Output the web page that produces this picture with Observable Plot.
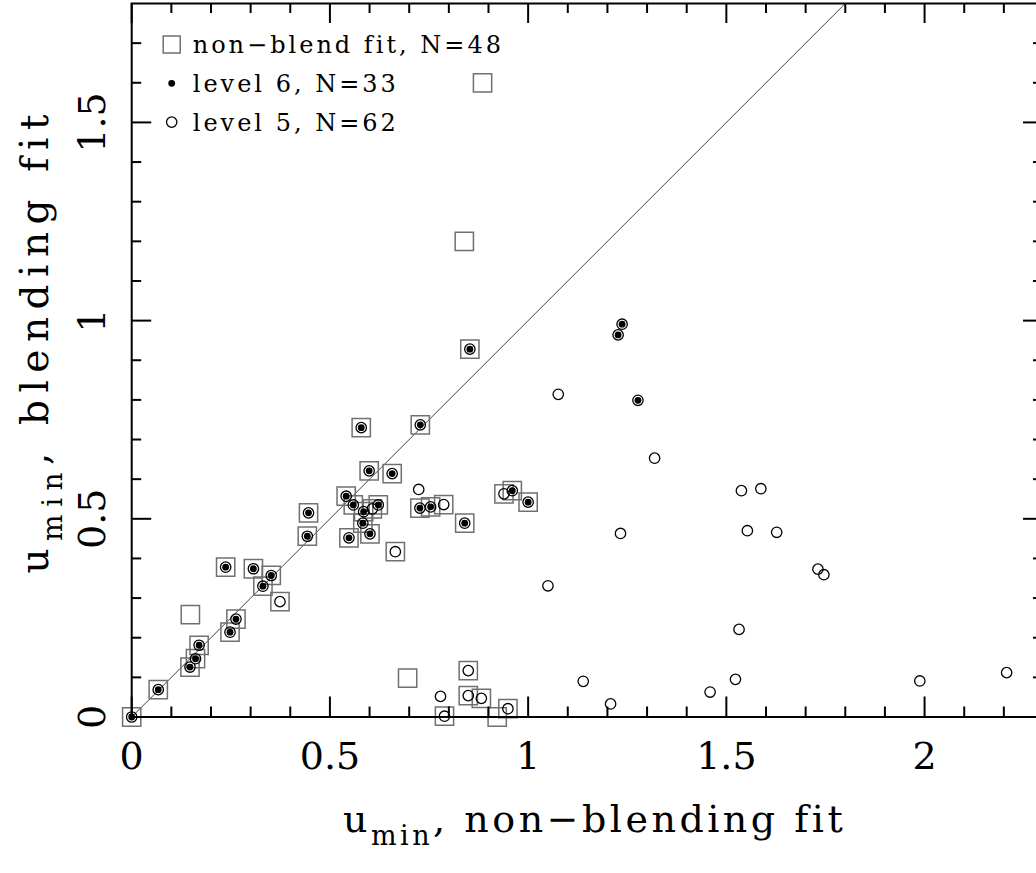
<!DOCTYPE html>
<html><head><meta charset="utf-8">
<script src="https://cdn.jsdelivr.net/npm/d3@7"></script>
<script src="https://cdn.jsdelivr.net/npm/@observablehq/plot@0.6"></script>
<style>
html,body{margin:0;padding:0;background:#fff;overflow:hidden;}
#wrap{width:1036px;height:873px;overflow:hidden;}
</style></head><body><div id="wrap"></div>
<script>
// level 5 events (N=62): [u_min non-blending fit, u_min blending fit]
const level5 = [[0,0],[0.067,0.069],[0.147,0.126],[0.161,0.147],[0.170,0.181],[0.248,0.214],[0.263,0.247],[0.374,0.291],[0.331,0.330],[0.237,0.378],
[0.307,0.374],[0.352,0.357],[0.446,0.515],[0.443,0.456],[0.541,0.557],[0.559,0.535],[0.585,0.518],[0.607,0.525],[0.622,0.535],[0.583,0.489],
[0.601,0.462],[0.548,0.452],[0.579,0.730],[0.728,0.737],[0.599,0.621],[0.657,0.614],[0.853,0.928],[0.665,0.417],[0.724,0.574],[0.727,0.527],
[0.754,0.530],[0.787,0.536],[0.840,0.489],[0.939,0.563],[0.960,0.571],[1.000,0.542],[0.779,0.052],[0.789,0.002],[0.849,0.117],[0.849,0.054],
[0.882,0.047],[0.949,0.021],[1.237,0.991],[1.227,0.964],[1.277,0.799],[1.076,0.814],[1.319,0.653],[1.538,0.571],[1.587,0.576],[1.233,0.463],
[1.553,0.470],[1.627,0.466],[1.731,0.373],[1.746,0.359],[1.050,0.331],[1.532,0.221],[1.139,0.090],[1.208,0.033],[1.459,0.063],[1.523,0.095],
[1.988,0.091],[2.207,0.112]];
// level 6 events (N=33)
const level6 = [[0,0],[0.067,0.069],[0.147,0.126],[0.161,0.147],[0.170,0.181],[0.248,0.214],[0.263,0.247],[0.331,0.330],[0.237,0.378],[0.307,0.374],
[0.352,0.357],[0.446,0.515],[0.443,0.456],[0.541,0.557],[0.559,0.535],[0.585,0.518],[0.622,0.535],[0.583,0.489],[0.601,0.462],[0.548,0.452],
[0.579,0.730],[0.728,0.737],[0.599,0.621],[0.657,0.614],[0.853,0.928],[0.727,0.527],[0.754,0.530],[0.840,0.489],[0.960,0.571],[1.000,0.542],
[1.237,0.991],[1.227,0.964],[1.277,0.799]];
// non-blend fit events (visible ones)
const nonBlendFit = [[0,0],[0.067,0.069],[0.147,0.126],[0.161,0.147],[0.170,0.181],[0.248,0.214],[0.263,0.247],[0.374,0.291],[0.331,0.330],[0.237,0.378],
[0.307,0.374],[0.352,0.357],[0.446,0.515],[0.443,0.456],[0.541,0.557],[0.559,0.535],[0.585,0.518],[0.607,0.525],[0.622,0.535],[0.583,0.489],
[0.601,0.462],[0.548,0.452],[0.579,0.730],[0.728,0.737],[0.599,0.621],[0.657,0.614],[0.853,0.928],[0.665,0.417],[0.727,0.527],[0.754,0.530],
[0.787,0.536],[0.840,0.489],[0.939,0.563],[0.960,0.571],[1.000,0.542],[0.789,0.002],[0.849,0.117],[0.849,0.054],[0.882,0.047],[0.922,0.0],
[0.949,0.021],[0.148,0.258],[0.696,0.098],[0.839,1.200],[0.885,1.600]];

const oneToOne = [0, 1.8];
const xDomain = [0, 2.3];
const yDomain = [0, 1.8];
const xMajorTicks = [0, 0.5, 1, 1.5, 2];
const xMinorTicks = [0.1,0.2,0.3,0.4,0.6,0.7,0.8,0.9,1.1,1.2,1.3,1.4,1.6,1.7,1.8,1.9,2.1,2.2];
const yMajorTicks = [0, 0.5, 1, 1.5];
const yMinorTicks = [0.1,0.2,0.3,0.4,0.6,0.7,0.8,0.9,1.1,1.2,1.3,1.4,1.6,1.7];
const legendLabels = ["non\u2212blend fit, N=48", "level 6, N=33", "level 5, N=62"];
const legendSymbols = ["square", "dot", "circle"];
const xTitle = ["u", "min", ", non\u2212blending fit"];
const yTitle = ["u", "min", ", blending fit"];

const FONT = "DejaVu Serif";
const MAJ = 20, MIN = 10, TW = 2;
const fmt = d => String(d);

const legendMarks = [];
legendLabels.forEach((label, i) => {
  const cy = 44 + i * 38.8;
  const sym = legendSymbols[i];
  if (sym === "square") legendMarks.push(Plot.dot([label], {frameAnchor: "top-left", dx: 40, dy: cy - 3, symbol: "square", r: 9.6, stroke: "#707070", strokeWidth: 1.5, fill: "none"}));
  if (sym === "dot") legendMarks.push(Plot.dot([label], {frameAnchor: "top-left", dx: 40, dy: cy - 3, r: 3.4, fill: "black"}));
  if (sym === "circle") legendMarks.push(Plot.dot([label], {frameAnchor: "top-left", dx: 40, dy: cy - 3, r: 5.2, stroke: "black", strokeWidth: 1.3, fill: "none"}));
  legendMarks.push(Plot.text([label], {frameAnchor: "top-left", dx: 61, dy: cy - 3 + 8.5, text: d => d, textAnchor: "start", lineAnchor: "bottom", fontSize: 24, fill: "black"}));
});

const chart = Plot.plot({
  width: 1050, height: 873,
  marginLeft: 131.2, marginRight: 7, marginTop: 3, marginBottom: 156.5,
  x: {domain: xDomain, axis: null},
  y: {domain: yDomain, axis: null},
  style: {fontFamily: FONT, maxWidth: "none", background: "white", color: "black"},
  marks: [
    Plot.line(oneToOne, {x: d => d, y: d => d, stroke: "#444", strokeWidth: 1}),
    Plot.dot(nonBlendFit, {x: d => d[0], y: d => d[1], symbol: "square", r: 10.3, stroke: "#707070", strokeWidth: 1.5, fill: "none"}),
    Plot.dot(level5, {x: d => d[0], y: d => d[1], r: 5.2, stroke: "black", strokeWidth: 1.3, fill: "none"}),
    Plot.dot(level6, {x: d => d[0], y: d => d[1], r: 3.4, fill: "black"}),
    Plot.frame({stroke: "black", strokeWidth: TW}),
    // bottom ticks
    Plot.ruleX(xMajorTicks, {x: d => d, y1: yDomain[0], y2: yDomain[0], insetBottom: MAJ, stroke: "black", strokeWidth: TW}),
    Plot.ruleX(xMinorTicks, {x: d => d, y1: yDomain[0], y2: yDomain[0], insetBottom: MIN, stroke: "black", strokeWidth: TW}),
    // top ticks
    Plot.ruleX(xMajorTicks, {x: d => d, y1: yDomain[1], y2: yDomain[1], insetBottom: -MAJ, stroke: "black", strokeWidth: TW}),
    Plot.ruleX(xMinorTicks, {x: d => d, y1: yDomain[1], y2: yDomain[1], insetBottom: -MIN, stroke: "black", strokeWidth: TW}),
    // left ticks
    Plot.ruleY(yMajorTicks, {y: d => d, x1: xDomain[0], x2: xDomain[0], insetRight: -MAJ, stroke: "black", strokeWidth: TW}),
    Plot.ruleY(yMinorTicks, {y: d => d, x1: xDomain[0], x2: xDomain[0], insetRight: -MIN, stroke: "black", strokeWidth: TW}),
    // right ticks
    Plot.ruleY(yMajorTicks, {y: d => d, x1: xDomain[1], x2: xDomain[1], insetRight: MAJ, stroke: "black", strokeWidth: TW}),
    Plot.ruleY(yMinorTicks, {y: d => d, x1: xDomain[1], x2: xDomain[1], insetRight: MIN, stroke: "black", strokeWidth: TW}),
    // tick labels
    Plot.text(xMajorTicks, {x: d => d, y: yDomain[0], text: fmt, dy: 51.5, lineAnchor: "bottom", textAnchor: "middle", fontSize: 38, fill: "black"}),
    Plot.text(yMajorTicks, {x: xDomain[0], y: d => d, text: fmt, dx: -27, rotate: -90, lineAnchor: "bottom", textAnchor: "middle", fontSize: 38, fill: "black"}),
    // axis titles
    Plot.text([xTitle.join("")], {frameAnchor: "bottom", dx: 7, dy: 114.5, text: d => d, lineAnchor: "bottom", textAnchor: "middle", fontSize: 38, fill: "black"}),
    Plot.text([yTitle.join("")], {frameAnchor: "left", dx: -84, dy: -20, rotate: -90, text: d => d, lineAnchor: "bottom", textAnchor: "middle", fontSize: 39, fill: "black"}),
    ...legendMarks
  ]
});

const ns = "http://www.w3.org/2000/svg";
function subscriptTitle(t, parts, subSize, shift) {
  t.textContent = "";
  const a = document.createElementNS(ns, "tspan"); a.textContent = parts[0];
  const b = document.createElementNS(ns, "tspan"); b.textContent = parts[1];
  b.setAttribute("dy", shift); b.setAttribute("font-size", subSize);
  const c = document.createElementNS(ns, "tspan"); c.textContent = parts[2];
  c.setAttribute("dy", -shift);
  t.append(a, b, c);
}
for (const t of chart.querySelectorAll("text")) {
  const s = t.textContent;
  if (s === xTitle.join("")) { t.style.letterSpacing = "3.5px"; subscriptTitle(t, xTitle, 27, 13); }
  else if (s === yTitle.join("")) { t.style.letterSpacing = "7.5px"; subscriptTitle(t, yTitle, 28, 14); }
  else if (legendLabels.includes(s)) { t.style.letterSpacing = "3px"; }
}

document.getElementById("wrap").append(chart);
</script></body></html>
